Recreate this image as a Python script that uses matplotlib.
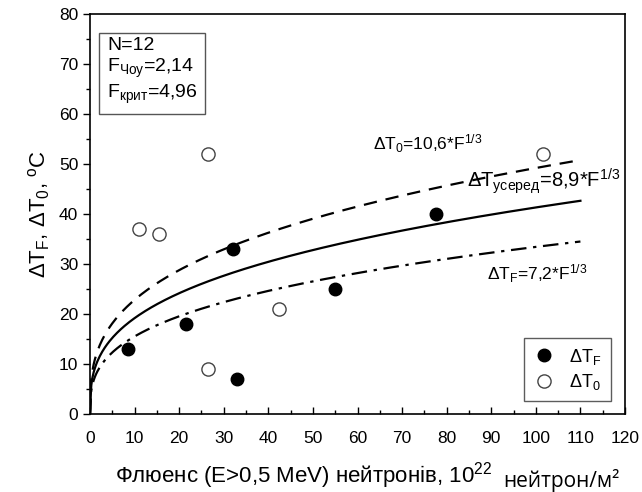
import matplotlib.pyplot as plt
import numpy as np

plt.rcParams['font.family'] = ['Liberation Sans', 'DejaVu Sans']
plt.rcParams['mathtext.fontset'] = 'custom'
plt.rcParams['mathtext.rm'] = 'Liberation Sans'
plt.rcParams['mathtext.it'] = 'Liberation Sans:italic'
plt.rcParams['mathtext.default'] = 'rm'

# Experimental points (fluence, 10^22 n/m^2 ; shift, deg C)
fluence_F = [8.5, 21.5, 32, 33, 55, 77.5]
dT_F = [13, 18, 33, 7, 25, 40]
fluence_0 = [11, 15.5, 26.5, 26.5, 42.5, 101.5]
dT_0 = [37, 36, 52, 9, 21, 52]

# Fit coefficients for dT = A * F^(1/3)
coef_0 = 10.6
coef_mean = 8.9
coef_F = 7.2

fig = plt.figure(figsize=(6.42, 4.92), dpi=100)
ax = fig.add_axes([90 / 642, 78 / 492, 535 / 642, 400 / 492])

# Fit curves
f = np.linspace(0, 110, 400)
ax.plot(f, coef_0 * f ** (1 / 3), color='black', lw=1.6, ls=(0, (6, 4)))
ax.plot(f, coef_mean * f ** (1 / 3), color='black', lw=1.6, ls='-')
ax.plot(f, coef_F * f ** (1 / 3), color='black', lw=1.6, ls=(0, (7, 3, 1.5, 3)))

# Points
ax.plot(fluence_F, dT_F, 'o', color='black', ms=9, label=r'$\Delta$T$_F$')
ax.plot(fluence_0, dT_0, 'o', mfc='white', mec='#444444', mew=1.0, ms=9.5,
        label=r'$\Delta$T$_0$')

ax.set_xlim(0, 120)
ax.set_ylim(0, 80)
ax.set_xticks(np.arange(0, 121, 10))
ax.set_xticks(np.arange(0, 121, 5), minor=True)
ax.set_yticks(np.arange(0, 81, 10))
ax.set_yticks(np.arange(0, 81, 5), minor=True)
ax.tick_params(axis='x', which='both', direction='in', labelsize=12.5, pad=12)
ax.tick_params(axis='y', which='both', direction='out', labelsize=12.5)
ax.tick_params(which='major', length=5, width=1)
ax.tick_params(which='minor', length=3, width=1)
for s in ax.spines.values():
    s.set_linewidth(1.2)

ax.set_ylabel(r'$\Delta$T$_F$, $\Delta$T$_0$, $^o$C', fontsize=16, labelpad=5)

# Annotations for fits
ax.text(63.5, 54, r'$\Delta$T$_0$=10,6*F$^{1/3}$', fontsize=12.5, va='center')
ax.text(84.5, 46.5, r'$\Delta$T$_{\mathrm{усеред}}$=8,9*F$^{1/3}$', fontsize=14.5,
        va='center')
ax.text(89, 28, r'$\Delta$T$_F$=7,2*F$^{1/3}$', fontsize=12.5, va='center')

# Statistics box
ax.text(3.8, 75.5, 'N=12\n' + r'F$_{\mathrm{Чоу}}$=2,14' + '\n' + r'F$_{\mathrm{крит}}$=4,96',
        fontsize=14, va='top', ha='left', linespacing=1.2,
        bbox=dict(boxstyle='square,pad=0.4', fc='white', ec='#555555', lw=1))

leg = ax.legend(loc='lower right', fontsize=13, frameon=True, fancybox=False,
                edgecolor='#333333', borderpad=0.5, handletextpad=0.8,
                handlelength=1.2, labelspacing=0.3, bbox_to_anchor=(0.99, 0.01))
leg.get_frame().set_linewidth(1)

# X label in two parts (the unit part is set in another font in the original)
fig.text(115 / 642, 1 - 476 / 492, r'Флюенс (E>0,5 MeV) нейтронів, 10$^{22}$',
         fontsize=16, va='center', ha='left')
fig.text(503 / 642, 1 - 480 / 492, 'нейтрон/м²', fontsize=15, va='center',
         ha='left', family=['Open Sans', 'DejaVu Sans'])

fig.savefig('out.png', dpi=100)
